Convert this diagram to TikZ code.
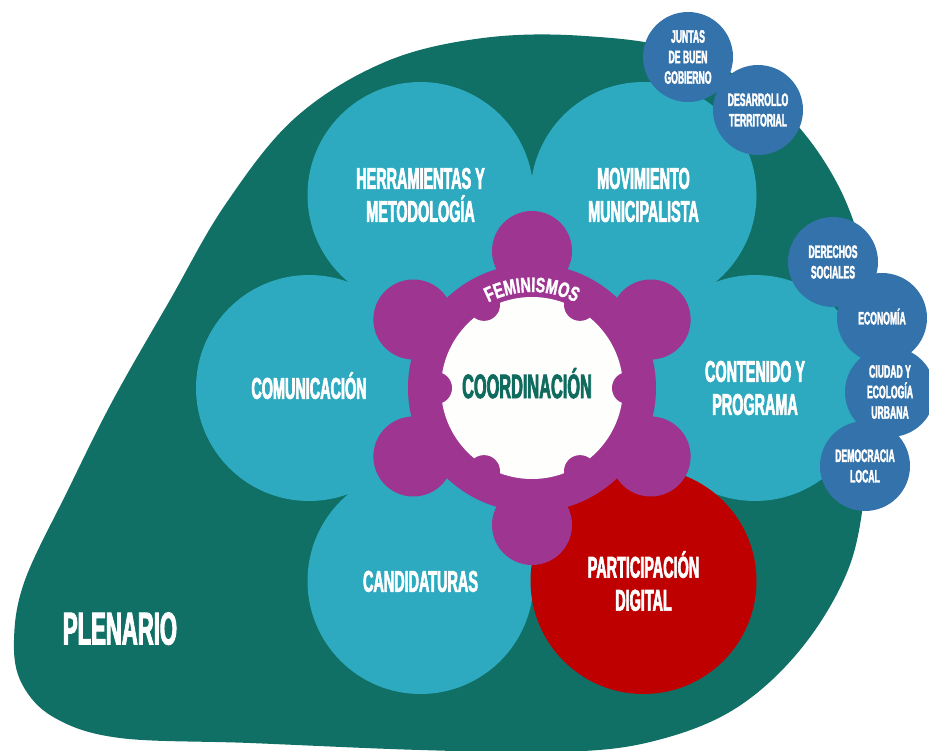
\documentclass[tikz,border=0pt]{standalone}
\usepackage{fontspec}
\usetikzlibrary{decorations.text}
\newfontfamily\condfont{Liberation Sans}[FakeStretch=0.48, FakeBold=2]
\newfontfamily\arcfont{Liberation Sans}[FakeStretch=0.68, FakeBold=1.5]
\definecolor{plenario}{HTML}{107066}
\definecolor{petal}{HTML}{2DAABF}
\definecolor{digital}{HTML}{BE0000}
\definecolor{fem}{HTML}{9E3591}
\definecolor{sub}{HTML}{3372AA}
\definecolor{coordtext}{HTML}{0F6B5E}
\definecolor{core}{HTML}{FEFEFC}
\begin{document}
\begin{tikzpicture}[x=1pt,y=-1pt,
  petalnode/.style={circle, fill=petal, inner sep=0pt, minimum size=226pt,
    text=white, align=center, font=\condfont\bfseries\fontsize{30}{33}\selectfont},
  subnode/.style={circle, fill=sub, inner sep=0pt, minimum size=90pt,
    text=white, align=center, font=\condfont\bfseries\fontsize{18}{20.5}\selectfont},
  capsbox/.style={text height=#1, text depth=0pt}]
\clip (0,0) rectangle (929,751);
\fill[white] (0,0) rectangle (929,751);

% outer plenary blob
\fill[plenario] plot[smooth cycle, tension=0.6] coordinates {
  (14,640) (25,580) (68,490) (113,400) (170,300) (225,205) (295,118)
  (385,62) (483,38) (585,36) (685,52) (775,103) (838,185) (870,285)
  (876,390) (866,485) (848,570) (800,650) (733,710) (650,742) (560,752)
  (420,750) (250,743) (120,738) (55,718) (22,684)};
\node[text=white, font=\condfont\bfseries\fontsize{46}{46}\selectfont, capsbox=33pt]
  (plenario) at (120,628) {PLENARIO};

% six commissions around the centre
\node[petalnode] (contenido) at (755,388) {CONTENIDO Y\\PROGRAMA};
\node[petalnode] (movimiento) at (643.5,195) {MOVIMIENTO\\MUNICIPALISTA};
\node[petalnode] (herramientas) at (420.5,195) {HERRAMIENTAS Y\\METODOLOGÍA};
\node[petalnode, capsbox=21.5pt] (comunicacion) at (309,388) {COMUNICACIÓN};
\node[petalnode, capsbox=21.5pt] (candidaturas) at (420.5,581) {CANDIDATURAS};
\node[petalnode, fill=digital] (participacion) at (643.5,581) {PARTICIPACIÓN\\DIGITAL};

% sub-groups
\node[subnode] (juntas) at (688,57) {JUNTAS\\DE BUEN\\GOBIERNO};
\node[subnode] (desarrollo) at (758,110) {DESARROLLO\\TERRITORIAL};
\node[subnode] (derechos) at (833,262) {DERECHOS\\SOCIALES};
\node[subnode, capsbox=12.9pt] (economia) at (882,318) {ECONOMÍA};
\node[subnode] (ciudad) at (890,392) {CIUDAD Y\\ECOLOGÍA\\URBANA};
\node[subnode] (democracia) at (865,466) {DEMOCRACIA\\LOCAL};

% feminist ring with knobs
\fill[fem] (532,388) circle (124);
\foreach \a in {90,30,-30,-90,-150,150}
  \fill[fem] (532,388) ++(\a:137) circle (40);
\fill[core] (532,388) circle (91);
\foreach \a in {0,60,120,180,240,300}
  \fill[fem] (532,388) ++(\a:96) circle (16);

\path[decorate, decoration={text along path, text align=center, text color=white,
  text={|\arcfont\bfseries\fontsize{21}{21}\selectfont|FEMINISMOS}}]
  (532,388) ++(-125:96) arc[start angle=-125, end angle=-55, radius=96];

\node[text=coordtext, font=\condfont\bfseries\fontsize{34}{34}\selectfont, capsbox=24.3pt]
  (coordinacion) at (527,386) {COORDINACIÓN};
\end{tikzpicture}
\end{document}
